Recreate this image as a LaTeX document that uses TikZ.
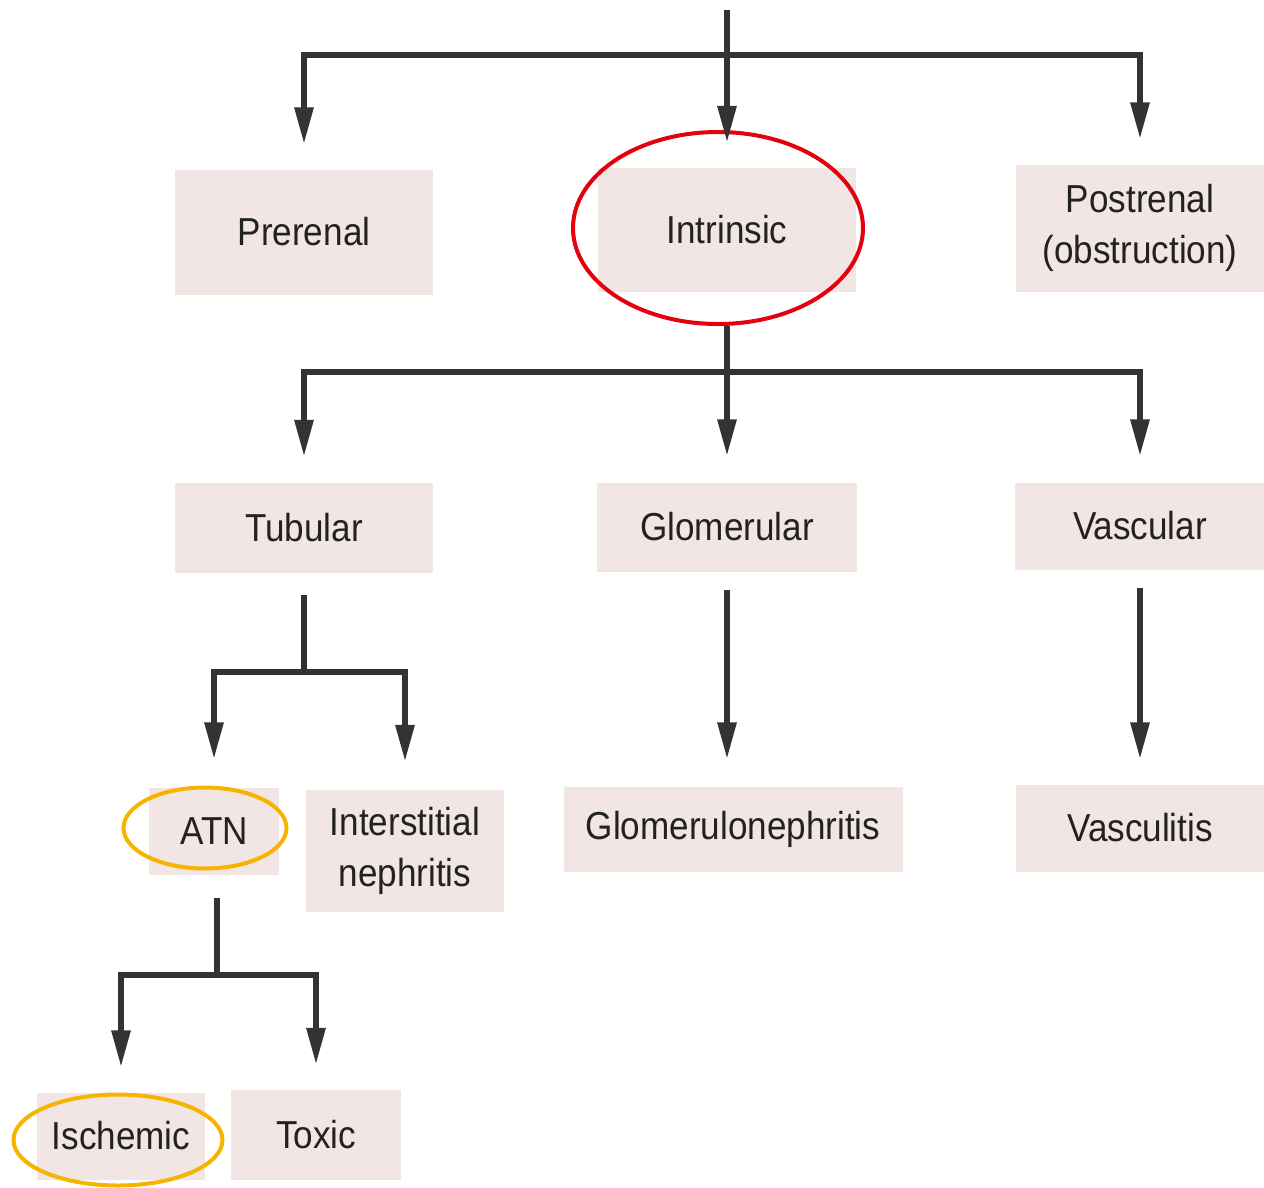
\documentclass[tikz,border=0pt]{standalone}
\usepackage{fontspec}
\setmainfont[FakeStretch=0.9]{Liberation Sans}
\usetikzlibrary{arrows.meta,shapes.geometric}
\definecolor{boxfill}{HTML}{F2E6E5}
\definecolor{ink}{HTML}{333333}
\definecolor{textink}{HTML}{222222}
\definecolor{ringred}{HTML}{E5000E}
\definecolor{ringorange}{HTML}{F6B400}
\begin{document}
\begin{tikzpicture}[x=1pt,y=-1pt,
  box/.style={fill=boxfill, text=textink, inner sep=0pt, align=center,
    font=\fontsize{39}{51}\selectfont},
  trunk/.style={draw=ink, line width=6pt, line join=miter},
  link/.style={trunk, -{Triangle[length=37pt,width=18pt]}},
  ring/.style={ellipse, draw, line width=4pt, inner sep=0pt, fill=none}]
\useasboundingbox (0,0) rectangle (1264,1187);

% level 1
\node[box, minimum width=258pt, minimum height=125pt] (pre)   at (304,232) {Prerenal};
\node[box, minimum width=258pt, minimum height=124pt] (intr)  at (727,230) {Intrinsic};
\node[box, minimum width=248pt, minimum height=127pt] (post)  at (1140,228) {Postrenal\\(obstruction)};

% level 2
\node[box, minimum width=258pt, minimum height=90pt] (tub)   at (304,528) {Tubular};
\node[box, minimum width=260pt, minimum height=89pt] (glom)  at (727,527) {Glomerular};
\node[box, minimum width=250pt, minimum height=87pt] (vasc)  at (1140,526) {Vascular};

% level 3
\node[box, minimum width=130pt, minimum height=87pt] (atn)   at (214,831) {ATN};
\node[box, minimum width=198pt, minimum height=122pt] (inter) at (405,851) {Interstitial\\nephritis};
\node[box, minimum width=339pt, minimum height=85pt] (gn)    at (733,829) {Glomerulonephritis};
\node[box, minimum width=249pt, minimum height=87pt] (vlitis) at (1140,828) {Vasculitis};

% level 4
\node[box, minimum width=168pt, minimum height=87pt] (isch)  at (121,1136) {Ischemic};
\node[box, minimum width=170pt, minimum height=90pt] (tox)   at (316,1135) {Toxic};

% highlight rings
\node[ring, draw=ringred, minimum width=290pt, minimum height=192pt] (ring1) at (718,228) {};
\node[ring, draw=ringorange, minimum width=163pt, minimum height=81pt] (ring2) at (205,828) {};
\node[ring, draw=ringorange, minimum width=209pt, minimum height=91pt] (ring3) at (118,1140) {};

% junction points
\coordinate (top)  at (727,10);
\coordinate (hub1) at (727,55);
\coordinate (hub2) at (727,372);
\coordinate (hub3) at (304,672);
\coordinate (hub4) at (217,975);

% top split
\draw[link] (top) -- ([yshift=25pt]intr.north);
\draw[link] (hub1) -| ([yshift=25pt]pre.north);
\draw[link] (hub1) -| ([yshift=25pt]post.north);

% intrinsic split
\draw[link] (intr.south |- ring1.south) -- ([yshift=26pt]glom.north);
\draw[link] (hub2) -| ([yshift=26pt]tub.north);
\draw[link] (hub2) -| ([yshift=26pt]vasc.north);

% tubular split
\draw[trunk] ([yshift=-22pt]tub.south) -- (hub3);
\draw[link] (hub3) -| ([yshift=28pt]atn.north);
\draw[link] (hub3) -| ([yshift=28pt]inter.north);

% glomerular and vascular
\draw[link] ([yshift=-18pt]glom.south) -- ([yshift=27pt]glom.south |- gn.north);
\draw[link] ([yshift=-18pt]vasc.south) -- ([yshift=25pt]vlitis.north);

% ATN split
\draw[trunk] ([yshift=-23pt]atn.south -| hub4) -- (hub4);
\draw[link] (hub4) -| ([yshift=25pt]isch.north);
\draw[link] (hub4) -| ([yshift=25pt]tox.north);
\end{tikzpicture}
\end{document}
